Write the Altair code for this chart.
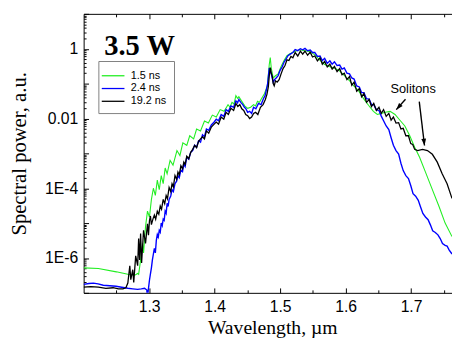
import altair as alt
import pandas as pd

SANS = "Liberation Sans"
SERIF = "Liberation Serif"

series_names = ["1.5 ns", "2.4 ns", "19.2 ns"]
series_colors = ["#22ee22", "#0000ff", "#000000"]
series_widths = [1.1, 1.4, 1.3]

# ---- 1.5 ns (green) ----
green_wl = [1.200, 1.2225, 1.250, 1.2675, 1.278, 1.2825, 1.284, 1.287, 1.290, 1.2915, 1.2945, 1.2975,
            1.3005, 1.3035, 1.3065, 1.3095, 1.3125, 1.3155, 1.3185, 1.3215, 1.3245, 1.3275, 1.332, 1.3365,
            1.3425, 1.347, 1.3515, 1.3575, 1.362, 1.368, 1.3725, 1.3785, 1.3845, 1.3905, 1.3965, 1.4025,
            1.4085, 1.4145, 1.4205, 1.4235, 1.4265, 1.4295, 1.4325, 1.435, 1.437, 1.4415, 1.446, 1.4505,
            1.455, 1.4595, 1.4625, 1.4655, 1.4685, 1.4715, 1.476, 1.4805, 1.4835, 1.485, 1.4865, 1.4895,
            1.4925, 1.497, 1.5015, 1.506, 1.5105, 1.515, 1.5225, 1.530, 1.5375, 1.545, 1.5525, 1.560,
            1.5675, 1.575, 1.5825, 1.590, 1.5975, 1.605, 1.6125, 1.620, 1.6275, 1.635, 1.6425, 1.6485,
            1.6545, 1.6605, 1.668, 1.6755, 1.683, 1.6905, 1.698, 1.7055, 1.713, 1.722, 1.7325, 1.743,
            1.752, 1.7625]
green_p = [5.2e-7, 5.0e-7, 4.0e-7, 3.4e-7, 3.2e-7, 3.6e-7, 3.4e-7, 8.8e-7, 2.6e-6, 1.4e-6, 7.9e-6, 2.2e-5,
           1.5e-5, 4.8e-5, 1.0e-4, 6.2e-5, 1.7e-4, 9.1e-5, 2.3e-4, 1.35e-4, 3.8e-4, 2.6e-4, 6.3e-4, 4.6e-4,
           1.2e-3, 8.7e-4, 2.0e-3, 1.7e-3, 3.2e-3, 2.6e-3, 5.0e-3, 4.4e-3, 8.5e-3, 7.4e-3, 1.25e-2, 1.1e-2,
           1.8e-2, 1.6e-2, 2.5e-2, 2.1e-2, 2.9e-2, 2.6e-2, 4.5e-2, 3.8e-2, 4.2e-2, 3.1e-2, 2.3e-2, 1.95e-2,
           2.1e-2, 2.5e-2, 2.3e-2, 3.1e-2, 2.9e-2, 3.7e-2, 5.1e-2, 8.5e-2, 0.36, 0.56, 0.28, 0.145,
           0.165, 0.19, 0.31, 0.46, 0.63, 0.72, 0.83, 0.93, 0.88, 0.83, 0.68, 0.49,
           0.36, 0.31, 0.28, 0.24, 0.175, 0.127, 0.086, 0.062, 0.037, 0.024, 0.016, 0.013,
           0.014, 0.015, 0.016, 0.013, 8.9e-3, 6.1e-3, 3.2e-3, 1.5e-3, 7.7e-4, 2.9e-4, 9.1e-5, 2.9e-5,
           1.0e-5, 4.1e-6]

# ---- 2.4 ns (blue) ----
blue_wl = [1.200, 1.208, 1.215, 1.222, 1.230, 1.240, 1.2495, 1.258, 1.2675, 1.275, 1.2825, 1.288, 1.293,
           1.2965, 1.2975, 1.2985, 1.3005, 1.302, 1.3035, 1.305, 1.3065, 1.308, 1.3095, 1.311, 1.3125,
           1.314, 1.3155, 1.317, 1.3185, 1.320, 1.3215, 1.323, 1.3245, 1.326, 1.3275, 1.329, 1.3305,
           1.333, 1.335, 1.337, 1.3395, 1.342, 1.344, 1.346, 1.3485, 1.351, 1.353, 1.355, 1.3575, 1.3605,
           1.3635, 1.3665, 1.3695, 1.3725, 1.3755, 1.3785, 1.3815, 1.3845, 1.3875, 1.391, 1.395, 1.399,
           1.4025, 1.406, 1.410, 1.414, 1.4175, 1.421, 1.425, 1.429, 1.4325, 1.435, 1.437, 1.440, 1.443,
           1.4455, 1.4475, 1.4505, 1.4535, 1.4565, 1.4595, 1.463, 1.467, 1.471, 1.4745, 1.477, 1.479,
           1.481, 1.4835, 1.4865, 1.4895, 1.4915, 1.494, 1.497, 1.500, 1.503, 1.506, 1.509, 1.512, 1.5155,
           1.5195, 1.523, 1.527, 1.531, 1.5345, 1.538, 1.542, 1.546, 1.5495, 1.553, 1.557, 1.561, 1.5645,
           1.568, 1.572, 1.576, 1.5795, 1.583, 1.587, 1.591, 1.5945, 1.598, 1.602, 1.606, 1.6095, 1.613,
           1.617, 1.621, 1.6245, 1.628, 1.632, 1.636, 1.6395, 1.643, 1.647, 1.651, 1.6545, 1.658, 1.662,
           1.666, 1.6695, 1.673, 1.677, 1.681, 1.6845, 1.688, 1.692, 1.696, 1.6995, 1.703, 1.707, 1.711,
           1.7145, 1.718, 1.722, 1.726, 1.7295, 1.733, 1.737, 1.741, 1.7445, 1.748, 1.752, 1.755, 1.758,
           1.7625]
blue_p = [1.75e-7, 1.85e-7, 1.9e-7, 1.8e-7, 1.65e-7, 1.6e-7, 1.55e-7, 1.45e-7, 1.35e-7, 1.3e-7, 1.26e-7,
          1.3e-7, 1.35e-7, 1.2e-7, 5e-8, 1.1e-7, 2.3e-7, 3.5e-7, 5.2e-7, 8.8e-7, 1.3e-6, 1.9e-6, 1.4e-6,
          3.2e-6, 4.7e-6, 4.0e-6, 6.2e-6, 5.5e-6, 1.0e-5, 8.5e-6, 1.3e-5, 1.2e-5, 2.2e-5, 1.9e-5, 3.7e-5,
          3.0e-5, 4.8e-5, 6.0e-5, 9.1e-5, 8.0e-5, 1.35e-4, 1.6e-4, 2.3e-4, 2.0e-4, 3.3e-4, 3.0e-4, 4.9e-4,
          4.2e-4, 7.8e-4, 6.8e-4, 1.07e-3, 1.2e-3, 1.7e-3, 1.5e-3, 2.3e-3, 2.1e-3, 3.4e-3, 3.0e-3, 5.0e-3,
          4.6e-3, 6.5e-3, 7.8e-3, 9.5e-3, 8.6e-3, 1.3e-2, 1.15e-2, 1.8e-2, 1.6e-2, 2.3e-2, 2.1e-2, 3.2e-2,
          2.8e-2, 3.5e-2, 2.9e-2, 2.5e-2, 2.1e-2, 1.95e-2, 1.5e-2, 1.6e-2, 1.4e-2, 2.1e-2, 1.9e-2, 2.7e-2,
          2.5e-2, 3.7e-2, 4.5e-2, 6.6e-2, 0.1, 0.28, 0.19, 0.11, 0.13, 0.145, 0.17, 0.24, 0.3, 0.41, 0.5,
          0.63, 0.7, 0.78, 0.95, 0.88, 1.0, 0.93, 1.02, 0.88, 0.92, 0.78, 0.78, 0.6, 0.62, 0.46, 0.53,
          0.38, 0.45, 0.36, 0.42, 0.33, 0.34, 0.26, 0.28, 0.2, 0.19, 0.145, 0.135, 0.086, 0.08, 0.055,
          0.055, 0.037, 0.036, 0.025, 0.025, 0.018, 0.017, 0.0117, 8.6e-3, 6.1e-3, 4.8e-3, 2.8e-3, 1.7e-3,
          1.2e-3, 9.5e-4, 5.2e-4, 3.2e-4, 2.3e-4, 1.9e-4, 1.2e-4, 7.0e-5, 5.9e-5, 4.5e-5, 2.9e-5, 1.9e-5,
          1.5e-5, 1.25e-5, 8.9e-6, 6.0e-6, 5.4e-6, 4.6e-6, 3.6e-6, 2.6e-6, 2.3e-6, 2.2e-6, 1.7e-6, 1.3e-6]

# ---- 19.2 ns (black) ----
black_wl = [1.200, 1.211, 1.2225, 1.234, 1.245, 1.253, 1.260, 1.2645, 1.2675, 1.2705, 1.272, 1.275,
            1.2765, 1.2795, 1.2825, 1.284, 1.2855, 1.287, 1.2885, 1.2915, 1.2945, 1.2975, 1.299, 1.3005,
            1.302, 1.3035, 1.3058, 1.308, 1.310, 1.3125, 1.3148, 1.317, 1.319, 1.3215, 1.3238, 1.326,
            1.328, 1.3305, 1.333, 1.335, 1.337, 1.3395, 1.342, 1.344, 1.346, 1.3485, 1.351, 1.353, 1.355,
            1.3575, 1.3605, 1.3635, 1.3665, 1.3695, 1.3725, 1.3755, 1.3785, 1.3815, 1.3845, 1.3875, 1.391,
            1.395, 1.399, 1.4025, 1.406, 1.410, 1.414, 1.4175, 1.421, 1.425, 1.429, 1.4325, 1.4355, 1.4385,
            1.4415, 1.4445, 1.4475, 1.4505, 1.4535, 1.4565, 1.4595, 1.4625, 1.466, 1.470, 1.474, 1.4775,
            1.480, 1.482, 1.4835, 1.485, 1.4865, 1.488, 1.4895, 1.491, 1.493, 1.4955, 1.4985, 1.5015,
            1.5045, 1.5075, 1.5105, 1.5135, 1.5165, 1.5195, 1.523, 1.527, 1.531, 1.5345, 1.538, 1.542,
            1.546, 1.5495, 1.553, 1.557, 1.561, 1.5645, 1.568, 1.572, 1.576, 1.5795, 1.583, 1.587, 1.591,
            1.5945, 1.598, 1.602, 1.606, 1.6095, 1.613, 1.617, 1.621, 1.6245, 1.628, 1.632, 1.636, 1.6395,
            1.643, 1.647, 1.651, 1.6545, 1.658, 1.662, 1.666, 1.6695, 1.673, 1.677, 1.681, 1.6845, 1.688,
            1.692, 1.696, 1.6995, 1.7025, 1.7055, 1.710, 1.7175, 1.725, 1.7325, 1.740, 1.7475, 1.755,
            1.7625]
black_p = [1.45e-7, 1.5e-7, 1.45e-7, 1.35e-7, 1.4e-7, 1.3e-7, 1.3e-7, 1.4e-7, 1.9e-7, 6e-7, 2.4e-7, 4.6e-7,
           2.0e-7, 1.15e-6, 6e-7, 3.6e-6, 8.8e-7, 5e-6, 7.2e-7, 6.2e-6, 2.6e-6, 9.5e-6, 4.5e-6, 1.17e-5,
           1.6e-5, 9e-6, 1.3e-5, 1.7e-5, 1.3e-5, 2.2e-5, 1.8e-5, 3.1e-5, 2.5e-5, 4.8e-5, 3.6e-5, 6.2e-5,
           5.0e-5, 1.05e-4, 8.0e-5, 1.35e-4, 1.1e-4, 2.3e-4, 1.8e-4, 2.9e-4, 2.4e-4, 4.4e-4, 3.6e-4, 5.6e-4,
           4.8e-4, 8.3e-4, 7.0e-4, 1.07e-3, 1.3e-3, 1.7e-3, 1.45e-3, 2.2e-3, 2.6e-3, 3.0e-3, 2.6e-3, 4.4e-3,
           3.8e-3, 5.7e-3, 6.8e-3, 7.9e-3, 6.9e-3, 1.1e-2, 9.5e-3, 1.5e-2, 1.3e-2, 1.95e-2, 1.7e-2, 2.7e-2,
           2.2e-2, 2.5e-2, 1.9e-2, 1.7e-2, 1.3e-2, 1.2e-2, 1.0e-2, 1.1e-2, 1.4e-2, 1.5e-2, 1.3e-2, 2.1e-2,
           2.5e-2, 3.5e-2, 5.0e-2, 8.1e-2, 0.17, 0.29, 0.2, 0.165, 0.1, 0.086, 0.12, 0.11, 0.13,
           0.19, 0.27, 0.33, 0.48, 0.46, 0.6, 0.55, 0.78, 0.62, 0.85, 0.7, 0.86, 0.65, 0.8, 0.58,
           0.62, 0.45, 0.55, 0.36, 0.43, 0.3, 0.36, 0.26, 0.31, 0.22, 0.27, 0.18, 0.2, 0.13, 0.16,
           0.09, 0.11, 0.06, 0.072, 0.042, 0.052, 0.029, 0.035, 0.022, 0.027, 0.017, 0.021, 0.014, 0.018,
           0.0115, 0.014, 9.0e-3, 1.1e-2, 7.4e-3, 7.6e-3, 5.0e-3, 5.2e-3, 3.2e-3, 3.2e-3, 1.9e-3, 1.8e-3,
           1.3e-3, 1.2e-3, 1.3e-3, 1.2e-3, 9.4e-4, 5.6e-4, 2.6e-4, 1.35e-4, 5.1e-5]

# ---- axes ----
x_domain = [1.2, 1.7625]
y_domain = [1e-7, 10]
x_major = [1.3, 1.4, 1.5, 1.6, 1.7]
x_minor = [1.25, 1.35, 1.45, 1.55, 1.65, 1.75]
y_decades = [1e-7, 1e-6, 1e-5, 1e-4, 1e-3, 1e-2, 1e-1, 1, 10]
y_labelled = [1e-6, 1e-4, 1e-2, 1]
y_minor = [k * d for d in y_decades[:-1] for k in range(2, 10)]

# ---- annotations ----
title_text = ["3.5 W"]
title_wl = [1.2315]
title_p = [0.64]
note_text = ["Solitons"]
note_wl = [1.7032]
note_p = [0.053]
arrow_wl = [1.6915, 1.7125]
arrow_p = [0.0356, 0.0306]
arrow_wl2 = [1.6774, 1.7205]
arrow_p2 = [0.0179, 1.68e-3]
arrow_angle = [221.6, 173.3]

frames = []
for name, xs, ys in [(series_names[0], green_wl, green_p),
                     (series_names[1], blue_wl, blue_p),
                     (series_names[2], black_wl, black_p)]:
    frames.append(pd.DataFrame({"series": name, "wl": xs, "p": ys}))
df_all = pd.concat(frames, ignore_index=True)

xs_ = alt.Scale(domain=x_domain, nice=False, zero=False)
ys_ = alt.Scale(type="log", domain=y_domain, nice=False)
cs_ = alt.Scale(domain=series_names, range=series_colors)

legend = alt.Legend(title=None, orient="none", legendX=15, legendY=48, direction="vertical",
                    symbolType="M-1.65,0L1.65,0", symbolSize=196, symbolStrokeWidth=1.3,
                    labelFont=SANS, labelFontSize=11, labelColor="#000", labelOffset=10,
                    strokeColor="#808080", fillColor="white", padding=7, rowPadding=0,
                    cornerRadius=0)

x_main = alt.Axis(orient="bottom", values=x_major, format=".1f", ticks=False, domain=True,
                  domainColor="#000", domainWidth=1, labelFont=SANS, labelFontSize=16,
                  labelColor="#000", labelPadding=6, labelFlush=False, grid=False,
                  title="Wavelength, µm", titleFont=SERIF, titleFontSize=20,
                  titleFontWeight="normal", titleColor="#000", titleX=192, titleY=41,
                  titleAlign="center", titleBaseline="alphabetic")
y_main = alt.Axis(orient="left", values=y_labelled,
                  labelExpr="datum.value >= 0.5 ? '1' : datum.value >= 0.005 ? '0.01' : datum.value >= 5e-5 ? '1E-4' : '1E-6'",
                  ticks=False, domain=True, domainColor="#000", domainWidth=1, labelFont=SANS,
                  labelFontSize=16, labelColor="#000", labelPadding=6, labelFlush=False, grid=False,
                  title="Spectral power, a.u.", titleFont=SERIF, titleFontSize=21,
                  titleFontWeight="normal", titleColor="#000", titleAngle=270, titleX=-59,
                  titleY=142, titleAlign="center", titleBaseline="alphabetic")


def tick_axis(orient, values, size, domain=False):
    return alt.Axis(orient=orient, values=values, labels=False, domain=domain, domainColor="#000",
                    grid=False, ticks=True, tickSize={"expr": str(-size)}, tickColor="#000",
                    tickWidth=1, title=None)


def line_layer(i):
    name = series_names[i]
    d = df_all[df_all["series"] == name]
    first = i == 0
    return alt.Chart(d).mark_line(strokeWidth=series_widths[i], clip=True).encode(
        x=alt.X("wl:Q", scale=xs_, axis=x_main if first else None),
        y=alt.Y("p:Q", scale=ys_, axis=y_main if first else None),
        color=alt.Color("series:N", scale=cs_, legend=legend),
    )


def ghost(xaxis, yaxis):
    return alt.Chart(df_all).mark_point(opacity=0, clip=True).encode(
        x=alt.X("wl:Q", scale=xs_, axis=xaxis),
        y=alt.Y("p:Q", scale=ys_, axis=yaxis),
    )


g1 = ghost(tick_axis("bottom", x_major, 5), tick_axis("left", y_decades, 5))
g2 = ghost(tick_axis("bottom", x_minor, 3), tick_axis("left", y_minor, 2.5))
g3 = ghost(tick_axis("top", x_major, 5, domain=True), None)
g4 = ghost(tick_axis("top", x_minor, 3), None)

title_df = pd.DataFrame({"t": title_text, "wl": title_wl, "p": title_p})
note_df = pd.DataFrame({"t": note_text, "wl": note_wl, "p": note_p})
arrow_df = pd.DataFrame({"wl": arrow_wl, "p": arrow_p, "wl2": arrow_wl2, "p2": arrow_p2,
                         "ang": arrow_angle})

title_layer = alt.Chart(title_df).mark_text(font=SERIF, fontSize=29, fontWeight="bold",
                                            align="left", baseline="alphabetic",
                                            color="#000").encode(
    x=alt.X("wl:Q", scale=xs_, axis=None), y=alt.Y("p:Q", scale=ys_, axis=None), text="t:N")
note_layer = alt.Chart(note_df).mark_text(font=SANS, fontSize=13, align="center",
                                          baseline="alphabetic", color="#000").encode(
    x=alt.X("wl:Q", scale=xs_, axis=None), y=alt.Y("p:Q", scale=ys_, axis=None), text="t:N")
arrow_lines = alt.Chart(arrow_df).mark_rule(color="#000", strokeWidth=1.4).encode(
    x=alt.X("wl:Q", scale=xs_, axis=None), y=alt.Y("p:Q", scale=ys_, axis=None),
    x2="wl2:Q", y2="p2:Q")
arrow_heads = alt.Chart(arrow_df).mark_point(shape="M0,0L-0.7,2L0.7,2Z", size=49, filled=True,
                                             color="#000", opacity=1).encode(
    x=alt.X("wl2:Q", scale=xs_, axis=None), y=alt.Y("p2:Q", scale=ys_, axis=None),
    angle=alt.Angle("ang:Q", scale=None))

chart = alt.layer(
    line_layer(0), line_layer(1), line_layer(2),
    g1, g2, g3, g4,
    title_layer, note_layer, arrow_lines, arrow_heads,
).resolve_axis(x="independent", y="independent").properties(
    width=375, height=284,
    autosize=alt.AutoSizeParams(type="none"),
    padding={"left": 77, "top": 3, "right": 0, "bottom": 43},
    background="white",
).configure_view(stroke=None).configure_axis(grid=False)

chart.save("out.html", embed_options={"renderer": "svg", "actions": False})
